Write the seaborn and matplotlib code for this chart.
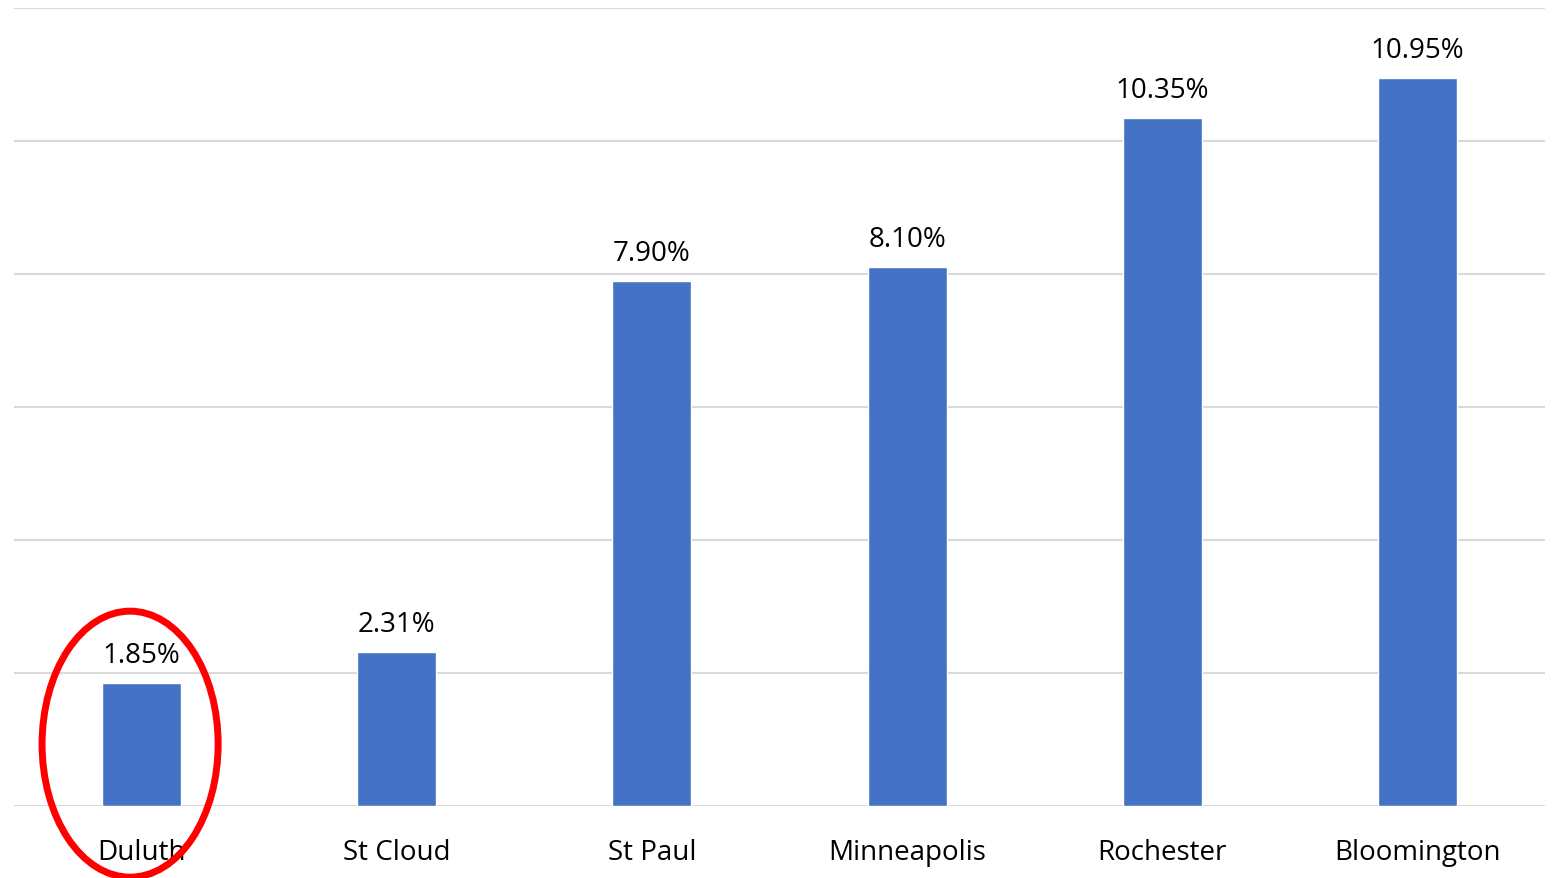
import matplotlib
matplotlib.use("Agg")
import matplotlib.pyplot as plt
from matplotlib.patches import Ellipse
import seaborn as sns
import pandas as pd

cities = ["Duluth", "St Cloud", "St Paul", "Minneapolis", "Rochester", "Bloomington"]
rates = [1.85, 2.31, 7.90, 8.10, 10.35, 10.95]

df = pd.DataFrame({"city": cities, "rate": rates})

sns.set_theme(style="white")
plt.rcParams["font.family"] = ["Open Sans", "DejaVu Sans"]

fig = plt.figure(figsize=(15.54, 8.79), dpi=100)
ax = fig.add_axes([14 / 1554, 72 / 879, 1531 / 1554, 798 / 879])

sns.barplot(data=df, x="city", y="rate", color="#4472C4", width=0.31,
            saturation=1, ax=ax, zorder=3)

ax.set_ylim(0, 12)
ax.set_xlim(-0.5, 5.5)
ax.set_yticks(range(0, 13, 2))
ax.yaxis.grid(True, color="#D9D9D9", linewidth=1.5, zorder=0)
ax.set_axisbelow(True)
ax.tick_params(axis="y", left=False, labelleft=False)
ax.tick_params(axis="x", bottom=False, labelsize=20, pad=17, colors="black")
ax.set_xlabel("")
ax.set_ylabel("")
for s in ax.spines.values():
    s.set_visible(False)

for i, v in enumerate(rates):
    ax.annotate(f"{v:.2f}%", (i, v), xytext=(0, 10), textcoords="offset points",
                ha="center", va="bottom", fontsize=20, color="black")

ax.add_patch(Ellipse((-0.045, 0.93), 0.69, 4.0, fill=False, edgecolor="#FF0000",
                     linewidth=5, clip_on=False, zorder=5))

fig.savefig("out.png", dpi=100)
